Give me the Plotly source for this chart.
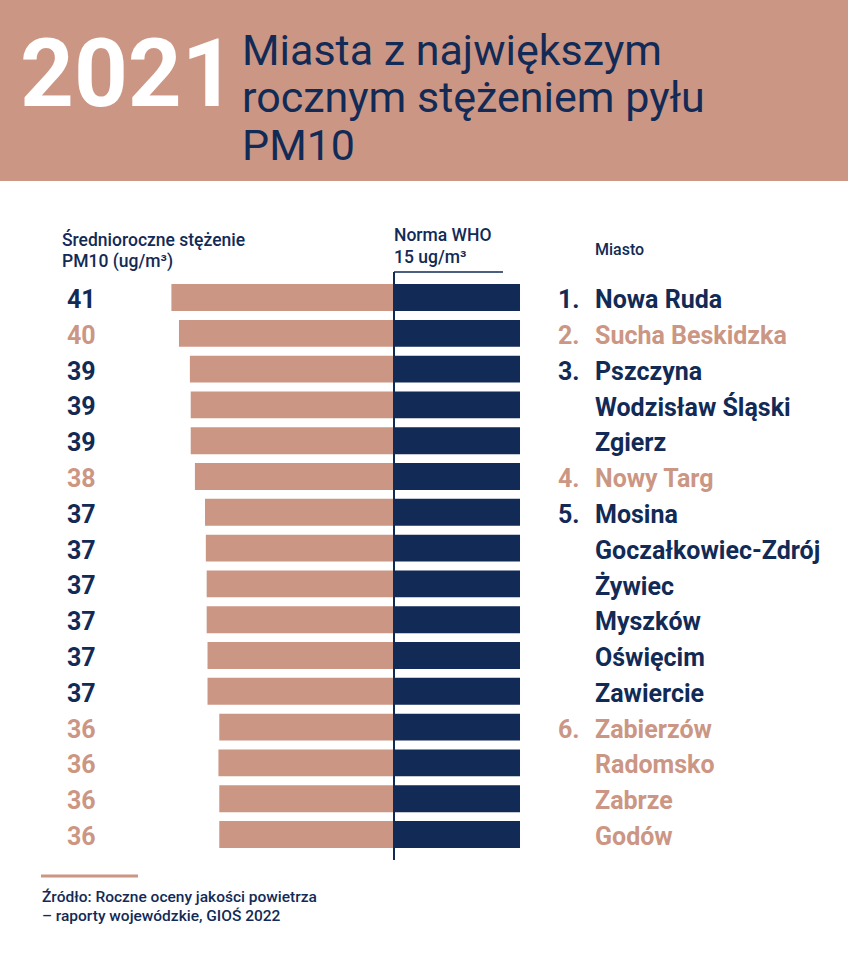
import plotly.graph_objects as go

# dane: średnioroczne stężenie PM10 (ug/m3), norma WHO 15
cities = ["Nowa Ruda", "Sucha Beskidzka", "Pszczyna", "Wodzisław Śląski", "Zgierz",
          "Nowy Targ", "Mosina", "Goczałkowiec-Zdrój", "Żywiec", "Myszków",
          "Oświęcim", "Zawiercie", "Zabierzów", "Radomsko", "Zabrze", "Godów"]
rank = ["1.", "2.", "3.", "", "", "4.", "5.", "", "", "", "", "", "6.", "", "", ""]
# długości słupków
pm10 = [41.5, 40.6, 39.3, 39.2, 39.2, 38.7, 37.5, 37.4, 37.3, 37.3, 37.2, 37.2,
        35.8, 35.9, 35.8, 35.8]
# wartości podpisane na wykresie
pm10_label = [41, 40, 39, 39, 39, 38, 37, 37, 37, 37, 37, 37, 36, 36, 36, 36]
who_norm = 15

SALMON = "#cc9684"
NAVY = "#122a56"
W, H = 848, 961
FONT = "Roboto, sans-serif"


def px(x):
    return x / W


def py(y):
    return 1 - y / H


rows = list(range(len(cities)))
# kolor wg miejsca w rankingu (naprzemiennie)
group_col = []
col = NAVY
for r in rank:
    if r:
        col = NAVY if int(r[:-1]) % 2 == 1 else SALMON
    group_col.append(col)

fig = go.Figure()
fig.add_trace(go.Bar(y=rows, x=[-(v - who_norm) for v in pm10], orientation="h",
                     marker=dict(color=SALMON, line_width=0), width=0.75,
                     hoverinfo="skip"))
fig.add_trace(go.Bar(y=rows, x=[who_norm] * len(rows), orientation="h",
                     marker=dict(color=NAVY, line_width=0), width=0.75,
                     hoverinfo="skip"))

scale = 8.4  # px na jednostkę
row_top, row_bot = 279.6, 852.4

fig.update_layout(
    width=W, height=H, margin=dict(l=0, r=0, t=0, b=0),
    paper_bgcolor="white", plot_bgcolor="white",
    barmode="overlay", showlegend=False,
    xaxis=dict(range=[-394 / scale, (W - 394) / scale], domain=[0, 1],
               visible=False, fixedrange=True),
    yaxis=dict(range=[len(rows) - 0.5, -0.5], domain=[py(row_bot), py(row_top)],
               visible=False, fixedrange=True),
)

shapes = [
    dict(type="rect", xref="paper", yref="paper", x0=0, x1=1, y0=py(181), y1=1,
         fillcolor=SALMON, line_width=0, layer="below"),
    dict(type="line", xref="x", yref="paper", x0=0, x1=0, y0=py(272), y1=py(860),
         line=dict(color=NAVY, width=2)),
    dict(type="line", xref="paper", yref="paper", x0=px(394), x1=px(503),
         y0=py(272), y1=py(272), line=dict(color=NAVY, width=1.5)),
    dict(type="line", xref="paper", yref="paper", x0=px(41), x1=px(138),
         y0=py(876), y1=py(876), line=dict(color=SALMON, width=3)),
]
fig.update_layout(shapes=shapes)

ann = []


def text(x, y, s, size, color=NAVY, weight="normal", anchor="left"):
    ann.append(dict(xref="paper", yref="paper", x=px(x), y=py(y), text=s,
                    showarrow=False, xanchor=anchor, yanchor="middle",
                    font=dict(size=size, color=color, family=FONT, weight=weight)))


text(18, 74, "2021", 94, "white", weight="bold")
text(240, 50, "Miasta z największym", 43)
text(240, 97, "rocznym stężeniem pyłu", 43)
text(240, 145, "PM10", 43)

text(60, 240, "Średnioroczne stężenie", 17.5, weight=500)
text(60, 262, "PM10 (ug/m³)", 17.5, weight=500)
text(392, 235, "Norma WHO", 17.5, weight=500)
text(392, 257, "15 ug/m³", 17.5, weight=500)
text(593, 250, "Miasto", 16, weight=500)

text(40, 897, "Źródło: Roczne oceny jakości powietrza", 15.5, weight=500)
text(40, 916, "– raporty wojewódzkie, GIOŚ 2022", 15.5, weight=500)

for i in rows:
    c = group_col[i]
    ann.append(dict(xref="paper", yref="y", x=px(65), y=i, text=str(pm10_label[i]),
                    showarrow=False, xanchor="left", yanchor="middle", yshift=-2,
                    font=dict(size=25, color=c, family=FONT, weight="bold")))
    if rank[i]:
        ann.append(dict(xref="paper", yref="y", x=px(556), y=i, text=rank[i],
                        showarrow=False, xanchor="left", yanchor="middle", yshift=-2,
                        font=dict(size=25, color=c, family=FONT, weight="bold")))
    ann.append(dict(xref="paper", yref="y", x=px(593), y=i, text=cities[i],
                    showarrow=False, xanchor="left", yanchor="middle", yshift=-2,
                    font=dict(size=25, color=c, family=FONT, weight="bold")))

fig.update_layout(annotations=ann)

fig.write_html("out.html", config={"displayModeBar": False},
               post_script="document.body.style.margin='0';")
